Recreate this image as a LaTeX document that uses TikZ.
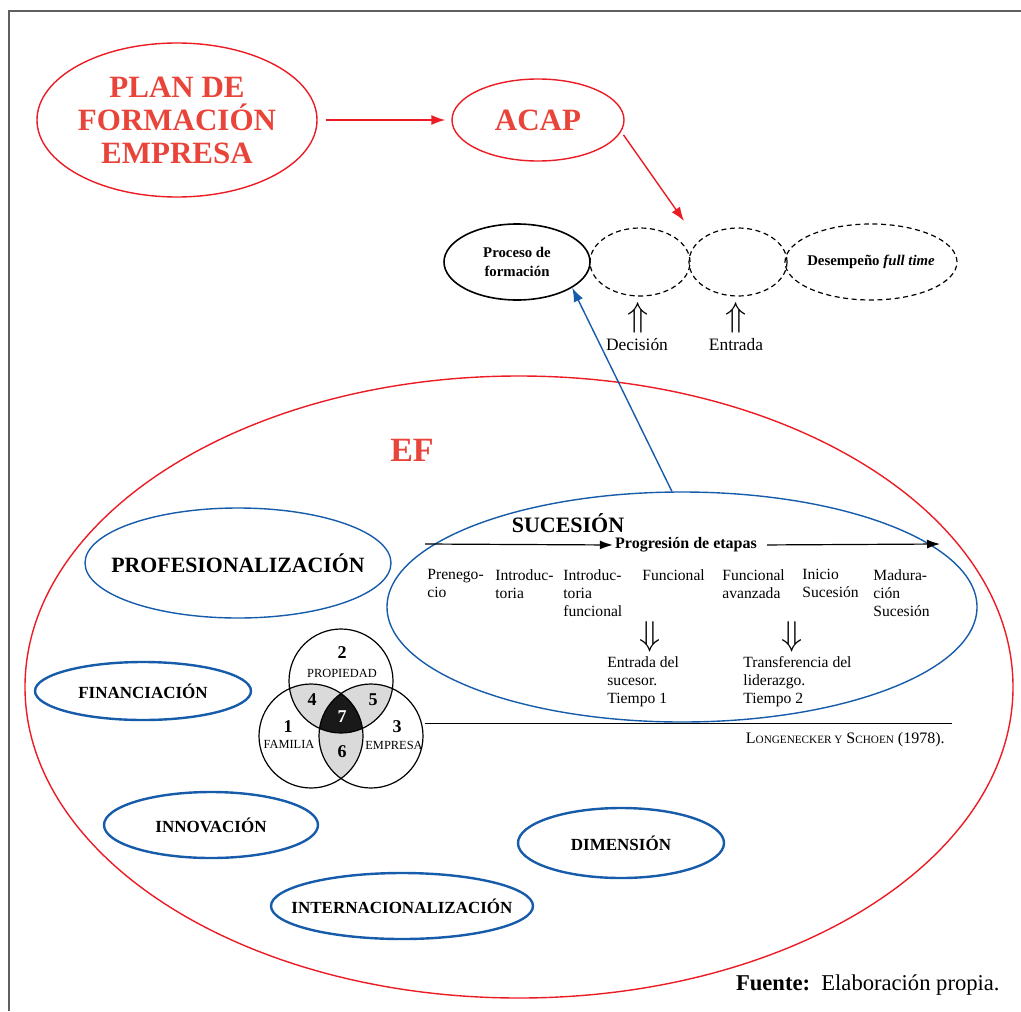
\documentclass[tikz,border=0pt]{standalone}
\usepackage{fontspec}
\setmainfont{Liberation Serif}
\usepackage{tikz}
\usetikzlibrary{shapes.geometric, arrows.meta}
\definecolor{efred}{RGB}{236,28,36}
\definecolor{txtred}{RGB}{232,68,58}
\definecolor{efblue}{RGB}{22,92,170}
\definecolor{venngray}{RGB}{218,218,218}
\definecolor{framegray}{RGB}{95,95,95}
\newcommand{\mysc}[1]{{\fontsize{5.6}{7}\selectfont #1}}

\begin{document}
\begin{tikzpicture}
                    [x=0.5pt, y=-0.5pt, >={Latex[length=7pt,width=5pt]},
                     every node/.style={inner sep=0pt},
                     oval/.style={ellipse, draw, inner xsep=-12pt, inner ysep=0pt},
                     redoval/.style={oval, draw=efred, line width=0.7pt, text=txtred, align=center,
                                     font=\fontsize{15.5}{16.5}\selectfont\bfseries},
                     dashoval/.style={oval, dash pattern=on 2.5pt off 1.8pt, line width=0.6pt},
                     thinblue/.style={oval, draw=efblue, line width=0.7pt},
                     thickblue/.style={oval, draw=efblue, line width=1.2pt,
                                       font=\fontsize{8.5}{10}\selectfont\bfseries},
                     smallbold/.style={font=\fontsize{7.4}{9.5}\selectfont\bfseries, align=center},
                     stage/.style={font=\fontsize{7.8}{9}\selectfont, align=left, anchor=north west},
                     bigarrow/.style={font=\fontsize{18}{18}\selectfont},
                     vnum/.style={font=\fontsize{9}{9}\selectfont\bfseries},
                     vname/.style={font=\fontsize{6.2}{6.5}\selectfont}]
                    \useasboundingbox (0,0) rectangle (1021,1011);
                    \draw[framegray, line width=1pt] (9,1011) |- (1021,11);

                    \node[redoval, minimum width=140pt, minimum height=77pt] (plan) at (177,120) {PLAN DE\\FORMACIÓN\\EMPRESA};
                    \node[redoval, minimum width=86pt, minimum height=41pt] (acap) at (538,120) {ACAP};
                    \draw[->, efred, line width=0.7pt, shorten <=4pt, shorten >=3pt] (plan) -- (acap);

                    \node[oval, line width=0.8pt, minimum width=73pt, minimum height=38pt, smallbold] (proc) at (517,262) {Proceso de\\formación};
                    \node[dashoval, minimum width=50pt, minimum height=34pt] (d1) at (640,262) {};
                    \node[dashoval, minimum width=49pt, minimum height=34pt] (d2) at (738,262) {};
                    \node[dashoval, minimum width=86pt, minimum height=38pt, smallbold] (des) at (871,262) {Desempeño \textit{full time}};
                    \coordinate (acaptip) at (684,221);
                    \draw[->, efred, line width=0.7pt, shorten <=2pt] (acap.-8) -- (acaptip);

                    \node[bigarrow] (up1) at (638,318) {$\Uparrow$};
                    \node[bigarrow] (up2) at (736,318) {$\Uparrow$};
                    \node[font=\fontsize{8.7}{9}\selectfont] (dec) at (637,345) {Decisión};
                    \node[font=\fontsize{8.7}{9}\selectfont] (ent) at (736,345) {Entrada};

                    \node[oval, draw=efred, line width=0.7pt, minimum width=494pt, minimum height=311pt] (efoval) at (519,687) {};
                    \node[font=\fontsize{17}{17}\selectfont\bfseries, text=txtred] (ef) at (412,450) {EF};

                    \node[thinblue, minimum width=153pt, minimum height=55pt, font=\fontsize{10.9}{12}\selectfont\bfseries] (prof) at (238,563) {PROFESIONALIZACIÓN};
                    \node[thinblue, minimum width=295pt, minimum height=115pt] (suc) at (682,607) {};
                    \node[thickblue, minimum width=108pt, minimum height=29pt] (fin) at (143,691) {FINANCIACIÓN};
                    \node[thickblue, minimum width=107pt, minimum height=33pt] (innov) at (211,825) {INNOVACIÓN};
                    \node[thickblue, minimum width=131pt, minimum height=33pt] (intl) at (402,906) {INTERNACIONALIZACIÓN};
                    \node[thickblue, minimum width=103pt, minimum height=35pt] (dim) at (621,843) {DIMENSIÓN};
                    \draw[->, efblue, line width=0.7pt] (suc.95) -- (proc.-25);

                    \node[font=\fontsize{11}{12}\selectfont\bfseries] (suctitle) at (568,523) {SUCESIÓN};
                    \node[font=\fontsize{8}{9}\selectfont\bfseries] (prog) at (686,545) {Progresión de etapas};
                    \coordinate (progstart) at (425,544);
                    \coordinate (progend) at (940,544);
                    \draw[-{Latex[length=6.5pt,width=4.5pt]}, line width=0.6pt, shorten >=1pt] (progstart) -- (prog.west);
                    \draw[-{Latex[length=6.5pt,width=4.5pt]}, line width=0.6pt, shorten <=5pt] (prog.east) -- (progend);

                    \node[stage] (s1) at (427,569) {Prenego-\\cio};
                    \node[stage] (s2) at (495,569) {Introduc-\\toria};
                    \node[stage] (s3) at (563,569) {Introduc-\\toria\\funcional};
                    \node[stage] (s4) at (642,569) {Funcional};
                    \node[stage] (s5) at (722,569) {Funcional\\avanzada};
                    \node[stage] (s6) at (802,569) {Inicio\\Sucesión};
                    \node[stage] (s7) at (873,569) {Madura-\\ción\\Sucesión};

                    \node[bigarrow] (dn1) at (650,637) {$\Downarrow$};
                    \node[bigarrow] (dn2) at (792,637) {$\Downarrow$};
                    \node[stage] (r1) at (607,656) {Entrada del\\sucesor.\\Tiempo 1};
                    \node[stage] (r2) at (743,656) {Transferencia del\\liderazgo.\\Tiempo 2};

                    \coordinate (rulestart) at (425,723);
                    \coordinate (ruleend) at (952,723);
                    \draw[line width=0.5pt] (rulestart) -- (ruleend);
                    \node[font=\fontsize{8}{9}\selectfont, anchor=east] (cite) at (945,740) {L\mysc{ONGENECKER Y} S\mysc{CHOEN} (1978).};

                    \coordinate (vtop) at (341,681);
                    \coordinate (vleft) at (311,736);
                    \coordinate (vright) at (371,736);
                    \begin{scope}
                        \clip (vtop) circle (26pt);
                        \fill[venngray] (vleft) circle (26pt);
                        \fill[venngray] (vright) circle (26pt);
                    \end{scope}
                    \begin{scope}
                        \clip (vleft) circle (26pt);
                        \fill[venngray] (vright) circle (26pt);
                    \end{scope}
                    \begin{scope}
                        \clip (vtop) circle (26pt);
                        \clip (vleft) circle (26pt);
                        \fill[black!90] (vright) circle (26pt);
                    \end{scope}
                    \draw[line width=0.6pt] (vtop) circle (26pt) (vleft) circle (26pt) (vright) circle (26pt);
                    \node[vnum] (n2) at (342,653) {2};
                    \node[vname] (l2) at (342,673) {PROPIEDAD};
                    \node[vnum] (n4) at (312,700) {4};
                    \node[vnum] (n5) at (373,700) {5};
                    \node[vnum, text=white] (n7) at (342,717) {7};
                    \node[vnum] (n1) at (288,727) {1};
                    \node[vname] (l1) at (289,744) {FAMILIA};
                    \node[vnum] (n3) at (397,727) {3};
                    \node[vname] (l3) at (394,745) {EMPRESA};
                    \node[vnum] (n6) at (342,752) {6};

                    \node[font=\fontsize{11.3}{12}\selectfont, anchor=base east] (fuente) at (1000,990) {\textbf{Fuente:}\ \ Elaboración propia.};
                \end{tikzpicture}
\end{document}
